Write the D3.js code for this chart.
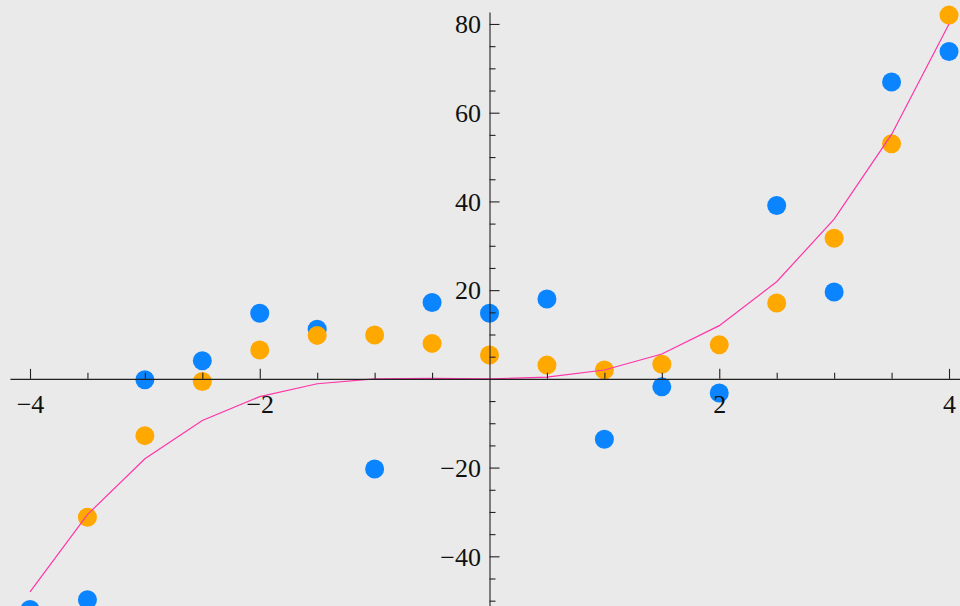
<!DOCTYPE html>
<html>
<head>
<meta charset="utf-8">
<script src="https://cdn.jsdelivr.net/npm/d3@7"></script>
<style>
  html, body { margin: 0; padding: 0; background: #eaeaea; }
  svg { display: block; }
</style>
</head>
<body>
<script>
// ---- data ----
const xValues = [-4, -3.5, -3, -2.5, -2, -1.5, -1, -0.5, 0, 0.5, 1, 1.5, 2, 2.5, 3, 3.5, 4];
const blueValues = [-52, -49.8, -0.2, 4.1, 14.8, 11.2, -20.3, 17.2, 14.8, 18.0, -13.6, -1.8, -3.2, 39.1, 19.6, 66.9, 73.8];
const orangeValues = [null, -31.2, -12.8, -0.6, 6.5, 9.8, 9.9, 8.0, 5.4, 3.1, 2.0, 3.3, 7.7, 17.1, 31.7, 53.0, 82.0];
const curveValues = [-48, -30.6, -18, -9.4, -4, -1.1, 0, 0.1, 0, 0.4, 2, 5.6, 12, 21.9, 36, 55.1, 80];
const xMajorTicks = [-4, -2, 2, 4];
const xMinorTicks = [-3.5, -3, -2.5, -1.5, -1, -0.5, 0.5, 1, 1.5, 2.5, 3, 3.5];
const yMajorTicks = [-40, -20, 20, 40, 60, 80];
const yMinorTicks = [-50, -45, -35, -30, -25, -15, -10, -5, 5, 10, 15, 25, 30, 35, 45, 50, 55, 65, 70, 75];

const W = 960, H = 606;
const svg = d3.select("body").append("svg").attr("width", W).attr("height", H);
svg.append("rect").attr("width", W).attr("height", H).attr("fill", "#eaeaea");

const x = d3.scaleLinear().domain([-4.175, 4.1]).range([9.9, 960.5]);
const y = d3.scaleLinear().domain([82.7, -51.2]).range([12, 606]);

const axisColor = "#222";
const fontFamily = "Liberation Serif";

// points
const series = [
  { vals: blueValues, color: "#0a84ff" },
  { vals: orangeValues, color: "#ffa800" }
];
series.forEach(s => {
  svg.append("g").selectAll("circle")
    .data(xValues.map((xv, i) => ({ x: xv, y: s.vals[i] })).filter(d => d.y !== null))
    .join("circle")
    .attr("cx", d => x(d.x))
    .attr("cy", d => y(d.y))
    .attr("r", 9.5)
    .attr("fill", s.color);
});

// curve
const line = d3.line().x(d => x(d.x)).y(d => y(d.y));
svg.append("path")
  .datum(xValues.map((xv, i) => ({ x: xv, y: curveValues[i] })))
  .attr("d", line)
  .attr("fill", "none")
  .attr("stroke", "#ff35a8")
  .attr("stroke-width", 1.2);

// axes
const fmt = d3.format("");
const gx = svg.append("g").attr("transform", `translate(0,${y(0)})`);
gx.call(d3.axisBottom(x).tickValues(xMajorTicks).tickSize(-10).tickSizeOuter(0).tickPadding(15.5).tickFormat(fmt));
const gxm = svg.append("g").attr("transform", `translate(0,${y(0)})`);
gxm.call(d3.axisBottom(x).tickValues(xMinorTicks).tickSize(-6).tickSizeOuter(0).tickFormat(""));
gxm.select(".domain").remove();

const gy = svg.append("g").attr("transform", `translate(${x(0)},0)`);
gy.call(d3.axisLeft(y).tickValues(yMajorTicks).tickSize(-10).tickSizeOuter(0).tickPadding(8.5).tickFormat(fmt));
const gym = svg.append("g").attr("transform", `translate(${x(0)},0)`);
gym.call(d3.axisLeft(y).tickValues(yMinorTicks).tickSize(-6).tickSizeOuter(0).tickFormat(""));
gym.select(".domain").remove();

[gx, gxm, gy, gym].forEach(g => {
  g.attr("font-family", fontFamily).attr("font-size", 26);
  g.selectAll("path, line").attr("stroke", axisColor).attr("stroke-width", 1.1);
  g.selectAll("text").attr("fill", "#111").attr("font-family", fontFamily).attr("font-size", 26);
});
gy.selectAll("text").attr("dy", "0.34em");
</script>
</body>
</html>
